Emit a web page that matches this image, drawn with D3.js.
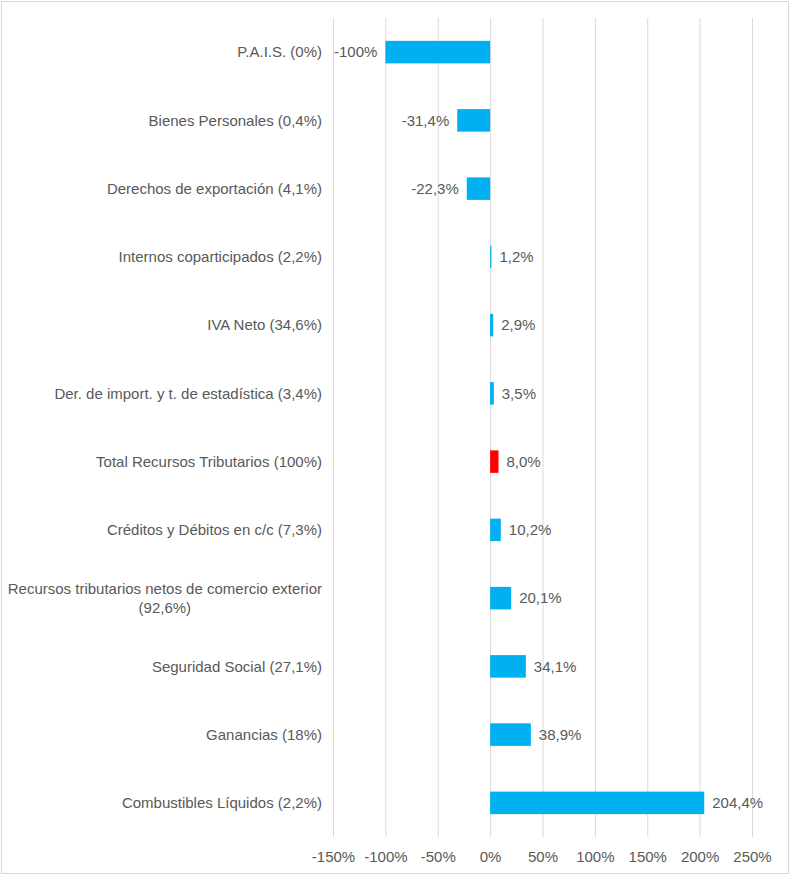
<!DOCTYPE html>
<html>
<head>
<meta charset="utf-8">
<script src="https://cdn.jsdelivr.net/npm/d3@7"></script>
<style>
  body { margin: 0; background: #fff; }
  text { font-family: "Liberation Sans", Arial, sans-serif; }
</style>
</head>
<body>
<script>
// categories top to bottom
var categories = [
  "P.A.I.S. (0%)",
  "Bienes Personales (0,4%)",
  "Derechos de exportación (4,1%)",
  "Internos coparticipados (2,2%)",
  "IVA Neto (34,6%)",
  "Der. de import. y t. de estadística (3,4%)",
  "Total Recursos Tributarios (100%)",
  "Créditos y Débitos en c/c (7,3%)",
  "Recursos tributarios netos de comercio exterior (92,6%)",
  "Seguridad Social (27,1%)",
  "Ganancias (18%)",
  "Combustibles Líquidos (2,2%)"
];
var values = [-100, -31.4, -22.3, 1.2, 2.9, 3.5, 8.0, 10.2, 20.1, 34.1, 38.9, 204.4];
var valueLabels = ["-100%", "-31,4%", "-22,3%", "1,2%", "2,9%", "3,5%", "8,0%", "10,2%", "20,1%", "34,1%", "38,9%", "204,4%"];
var highlight = "Total Recursos Tributarios (100%)";
var tickValues = [-150, -100, -50, 0, 50, 100, 150, 200, 250];

var width = 790, height = 875;
var blue = "#00B0F0", red = "#FF0000", grey = "#595959", gridColor = "#D9D9D9";
var fs = 15;

var svg = d3.select("body").append("svg")
    .attr("width", width)
    .attr("height", height);

svg.append("rect")
    .attr("x", 1.5).attr("y", 1.5)
    .attr("width", width - 3).attr("height", height - 3)
    .attr("fill", "#fff")
    .attr("stroke", gridColor);

var x = d3.scaleLinear().domain([-150, 250]).range([333, 752]);
var y = d3.scaleBand().domain(categories).range([18, 837])
    .paddingInner(0.67)
    .paddingOuter(0.335);

// gridlines
svg.append("g").selectAll("line")
    .data(tickValues)
    .join("line")
    .attr("x1", d => x(d) + 0.5).attr("x2", d => x(d) + 0.5)
    .attr("y1", 18).attr("y2", 837)
    .attr("stroke", gridColor)
    .attr("stroke-width", 1);

// x axis labels
var xAxis = d3.axisBottom(x)
    .tickValues(tickValues)
    .tickSize(0)
    .tickPadding(0)
    .tickFormat(d => d + "%");
var ax = svg.append("g")
    .attr("transform", "translate(0,851)")
    .call(xAxis);
ax.select(".domain").remove();
ax.selectAll("text")
    .attr("fill", grey)
    .attr("font-size", fs)
    .attr("font-family", "Liberation Sans, Arial, sans-serif");

var rows = categories.map((c, i) => ({cat: c, v: values[i], lab: valueLabels[i]}));

// bars
svg.append("g").selectAll("rect")
    .data(rows)
    .join("rect")
    .attr("x", d => x(Math.min(0, d.v)))
    .attr("y", d => y(d.cat))
    .attr("width", d => Math.abs(x(d.v) - x(0)))
    .attr("height", y.bandwidth())
    .attr("fill", d => d.cat === highlight ? red : blue);

// value labels
svg.append("g").selectAll("text")
    .data(rows)
    .join("text")
    .attr("x", d => d.v < 0 ? x(d.v) - 8 : x(d.v) + 8)
    .attr("y", d => y(d.cat) + y.bandwidth() / 2)
    .attr("dy", "0.35em")
    .attr("text-anchor", d => d.v < 0 ? "end" : "start")
    .attr("fill", grey)
    .attr("font-size", fs)
    .text(d => d.lab);

// category labels, wrapped when too wide
var labelRight = 322, maxW = 315, lineH = 19;
var cats = svg.append("g").selectAll("text")
    .data(categories)
    .join("text")
    .attr("fill", grey)
    .attr("font-size", fs)
    .attr("text-anchor", "middle");

cats.each(function(d) {
    var t = d3.select(this);
    var words = d.split(" ");
    var lines = [], line = [];
    var probe = t.append("tspan");
    words.forEach(function(w) {
        line.push(w);
        probe.text(line.join(" "));
        if (probe.node().getComputedTextLength() > maxW && line.length > 1) {
            line.pop();
            lines.push(line.join(" "));
            line = [w];
        }
    });
    lines.push(line.join(" "));
    probe.text(lines[0]);
    var w0 = probe.node().getComputedTextLength();
    probe.remove();
    var cx = labelRight - w0 / 2;
    var cy = y(d) + y.bandwidth() / 2 - (lines.length - 1) * lineH / 2;
    lines.forEach(function(l, i) {
        t.append("tspan")
            .attr("x", cx)
            .attr("y", cy + i * lineH)
            .attr("dy", "0.35em")
            .text(l);
    });
});
</script>
</body>
</html>
